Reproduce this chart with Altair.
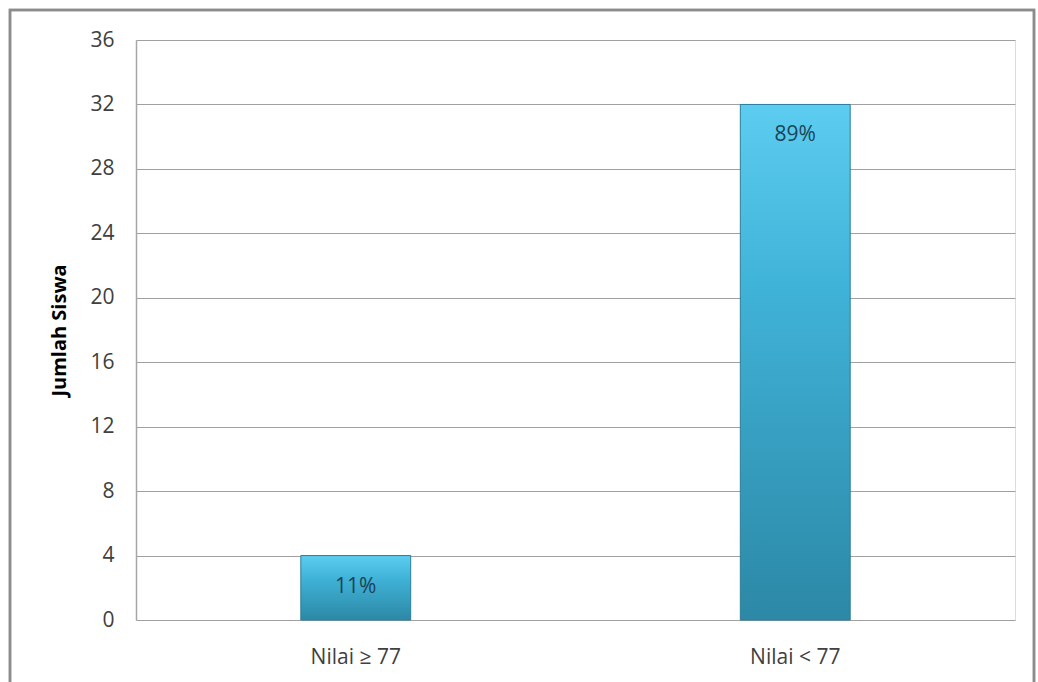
import altair as alt
import pandas as pd

categories = ["Nilai ≥ 77", "Nilai < 77"]
counts = [4, 32]
pct_labels = ["11%", "89%"]
y_ticks = [0, 4, 8, 12, 16, 20, 24, 28, 32, 36]

df = pd.DataFrame({"cat": categories, "n": counts, "lab": pct_labels})

FONT = "Open Sans"

x_enc = alt.X("cat:N", sort=categories, title=None,
              scale=alt.Scale(paddingInner=0.75, paddingOuter=0.375),
              axis=alt.Axis(labelAngle=0, labelFontSize=21, labelColor="#404040",
                            labelFont=FONT, labelPadding=26, ticks=False,
                            domain=False, grid=False))
y_enc = alt.Y("n:Q", title="Jumlah Siswa",
              scale=alt.Scale(domain=[0, 36], nice=False),
              axis=alt.Axis(values=y_ticks, labelFontSize=21, labelColor="#404040",
                            labelFont=FONT, labelPadding=22, ticks=False,
                            domain=True, domainColor="#a6a6a6", domainWidth=1.5,
                            grid=True, gridColor="#a0a0a0", gridWidth=1.2,
                            titleFontSize=20, titleFontWeight="bold", titleColor="#000000",
                            titleFont=FONT, titlePadding=20))

grad = alt.Gradient(
    gradient="linear",
    stops=[alt.GradientStop(color="#5ccdf0", offset=0),
           alt.GradientStop(color="#40b3d8", offset=0.35),
           alt.GradientStop(color="#2c88a6", offset=1)],
    x1=0, x2=0, y1=0, y2=1,
)

bars = alt.Chart(df).mark_bar(fill=grad, stroke="#2b7e98", strokeWidth=1).encode(
    x=x_enc, y=y_enc
)

labels = alt.Chart(df).mark_text(
    baseline="middle", dy=31, fontSize=21, font=FONT, color="#1a4456"
).encode(x=alt.X("cat:N", sort=categories), y="n:Q", text="lab:N")

frame = alt.Chart(df).mark_rect(fill=None, stroke="#8c8c8c", strokeWidth=2.5).encode(
    x=alt.value(-126), x2=alt.value(898), y=alt.value(-30), y2=alt.value(680)
)

chart = alt.layer(bars, labels, frame).properties(
    width=879, height=580,
    autosize=alt.AutoSizeParams(type="none"),
    padding={"left": 136, "top": 40, "right": 23, "bottom": 62},
).configure_view(stroke=None).configure(background="white")

chart.save("out.html", embed_options={"renderer": "svg", "actions": False})
